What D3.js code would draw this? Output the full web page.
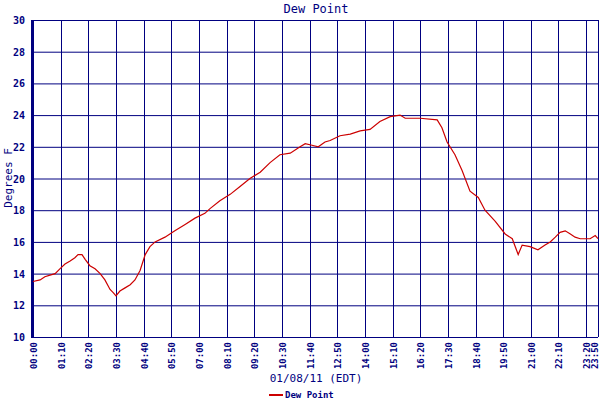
<!DOCTYPE html>
<html><head><meta charset="utf-8">
<script src="https://cdn.jsdelivr.net/npm/d3@7"></script>
<style>body{margin:0;background:#fff}text{font-family:"DejaVu Sans Mono",monospace;fill:#000080}</style>
</head><body><svg id="c" width="600" height="400"></svg>
<script>
// minutes since midnight and dew point (F)
const minutes = [0,18,30,43,56,68,81,94,106,114,124,132,144,157,170,182,195,203,210,220,233,246,258,271,284,296,309,334,359,385,410,435,448,473,499,524,549,575,600,625,651,676,689,706,722,739,752,777,803,828,853,878,904,929,942,980,1023,1035,1048,1068,1086,1106,1127,1144,1170,1195,1213,1228,1238,1258,1278,1296,1309,1322,1334,1347,1360,1372,1385,1410,1423,1430];
const dewPoint = [13.5,13.6,13.8,13.9,14.0,14.3,14.6,14.8,15.0,15.2,15.2,14.9,14.5,14.3,14.0,13.6,13.0,12.8,12.6,12.9,13.1,13.3,13.6,14.2,15.2,15.7,16.0,16.3,16.7,17.1,17.5,17.8,18.1,18.6,19.0,19.5,20.0,20.4,21.0,21.5,21.6,22.0,22.2,22.1,22.0,22.3,22.4,22.7,22.8,23.0,23.1,23.6,23.9,24.0,23.8,23.8,23.7,23.2,22.3,21.5,20.5,19.2,18.8,18.0,17.3,16.5,16.2,15.2,15.8,15.7,15.5,15.8,16.0,16.3,16.6,16.7,16.5,16.3,16.2,16.2,16.4,16.2];
const tickLabels = ["00:00","01:10","02:20","03:30","04:40","05:50","07:00","08:10","09:20","10:30","11:40","12:50","14:00","15:10","16:20","17:30","18:40","19:50","21:00","22:10","23:20","23:50"];
const yTicks = [10,12,14,16,18,20,22,24,26,28,30];

const svg = d3.select("#c");
const x = d3.scaleLinear().domain([0,1430]).range([33,598]);
const y = d3.scaleLinear().domain([10,30]).range([337,20]);
const toMin = s => +s.slice(0,2)*60 + +s.slice(3);

// grid
svg.append("g").selectAll("line").data(yTicks).join("line")
  .attr("x1",33).attr("x2",598).attr("y1",d=>y(d)+0.5).attr("y2",d=>y(d)+0.5)
  .attr("stroke","#000080").attr("stroke-width",1);
svg.append("g").selectAll("line").data(tickLabels).join("line")
  .attr("y1",20).attr("y2",337).attr("x1",d=>Math.round(x(toMin(d)))+0.5).attr("x2",d=>Math.round(x(toMin(d)))+0.5)
  .attr("stroke","#000080").attr("stroke-width",1);
svg.append("line").attr("x1",32).attr("x2",32).attr("y1",20).attr("y2",338)
  .attr("stroke","#000080").attr("stroke-width",2);

// y labels
svg.append("g").selectAll("text").data(yTicks).join("text")
  .attr("x",25).attr("y",d=>y(d)+4).attr("text-anchor","end")
  .style("font-size","10px").style("font-weight","bold").text(d=>d);
// x labels
svg.append("g").selectAll("text").data(tickLabels).join("text")
  .attr("transform",(d,i)=>`translate(${Math.min(Math.round(x(toMin(d)))+4,598)},342) rotate(-90)`)
  .attr("text-anchor","end").style("font-size","9px").style("font-weight","bold").text(d=>d);

// line
svg.append("path").datum(minutes.map((m,i)=>[m,dewPoint[i]]))
  .attr("fill","none").attr("stroke","#cc0000").attr("stroke-width",1.2)
  .attr("d",d3.line().x(d=>x(d[0])).y(d=>y(d[1])));

svg.append("text").attr("x",316).attr("y",13).attr("text-anchor","middle")
  .style("font-size","12px").text("Dew Point");
svg.append("text").attr("transform","translate(12,178) rotate(-90)").attr("text-anchor","middle")
  .style("font-size","11px").text("Degrees F");
svg.append("text").attr("x",316).attr("y",382).attr("text-anchor","middle")
  .style("font-size","11px").text("01/08/11 (EDT)");
svg.append("line").attr("x1",269).attr("x2",283).attr("y1",395).attr("y2",395)
  .attr("stroke","#cc0000").attr("stroke-width",2);
svg.append("text").attr("x",285).attr("y",398).style("font-size","9px").style("font-weight","bold").text("Dew Point");
</script></body></html>
